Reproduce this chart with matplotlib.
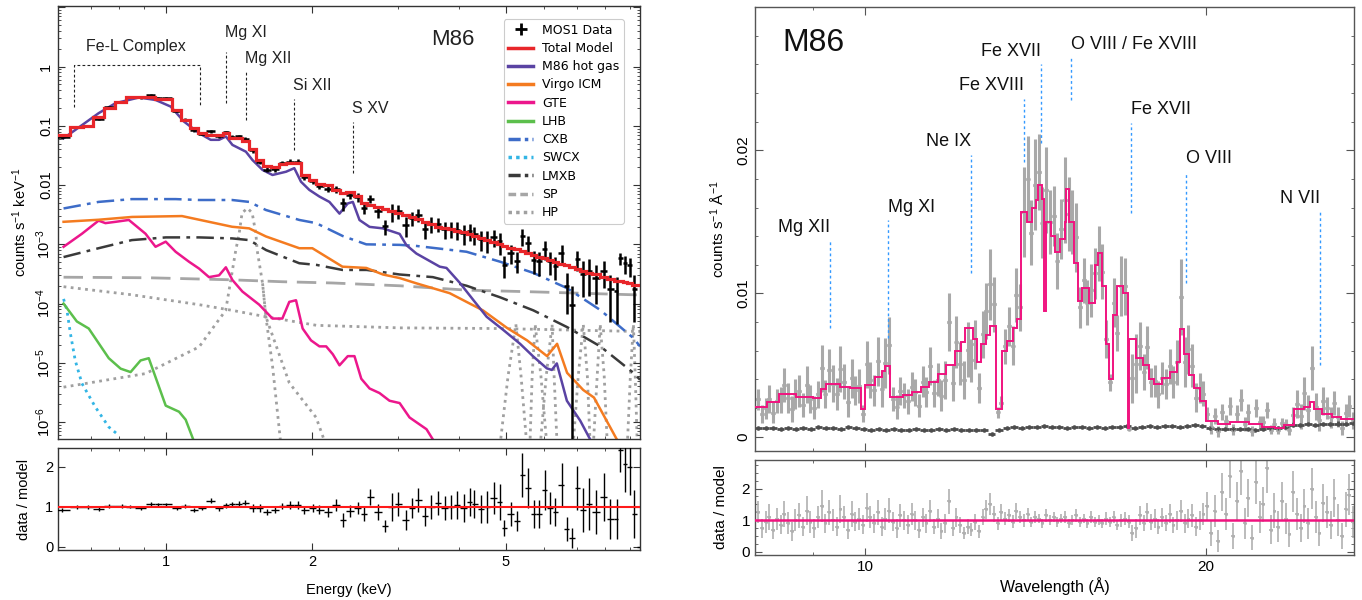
import numpy as np
import matplotlib
matplotlib.use("Agg")
import matplotlib.pyplot as plt
from matplotlib.lines import Line2D
from matplotlib.ticker import FixedLocator, NullFormatter, MultipleLocator, LogLocator

plt.rcParams['font.family'] = ['Liberation Sans', 'DejaVu Sans']
plt.rcParams['mathtext.fontset'] = 'custom'
plt.rcParams['mathtext.rm'] = 'Liberation Sans'
plt.rcParams['mathtext.default'] = 'regular'

# ---------------- left panel: MOS1 spectrum (energy, keV) ----------------
mos_e = [0.612, 0.657, 0.691, 0.729, 0.764, 0.811, 0.844, 0.888, 0.934, 0.962,
         1.002, 1.053, 1.097, 1.142, 1.184, 1.237, 1.288, 1.327, 1.368, 1.410,
         1.453, 1.507, 1.560, 1.614, 1.674, 1.735, 1.799, 1.869, 1.926, 2.005,
         2.067, 2.152, 2.240, 2.309, 2.389, 2.477, 2.553, 2.631, 2.728, 2.823,
         2.910, 2.999, 3.110, 3.198, 3.303, 3.404, 3.508, 3.630, 3.741, 3.856,
         3.958, 4.097, 4.222, 4.307, 4.439, 4.575, 4.715, 4.859, 4.958, 5.110,
         5.267, 5.406, 5.538, 5.707, 5.848, 6.003, 6.162, 6.313, 6.506, 6.665,
         6.842, 7.009, 7.194, 7.414, 7.640, 7.954, 8.197, 8.448, 8.570, 8.797,
         8.976, 9.158, 9.401]
mos_model = [0.070, 0.096, 0.100, 0.14, 0.20, 0.25, 0.31, 0.31, 0.31, 0.28,
             0.28, 0.185, 0.125, 0.092, 0.075, 0.070, 0.070, 0.075, 0.062, 0.062,
             0.055, 0.040, 0.026, 0.021, 0.020, 0.023, 0.024, 0.024, 0.0148, 0.012,
             0.0105, 0.0100, 0.0082, 0.0073, 0.0077, 0.0065, 0.0050, 0.0047, 0.0042, 0.0039,
             0.0036, 0.0034, 0.0031, 0.0029, 0.0027, 0.0024, 0.0022, 0.0020, 0.0019, 0.0018,
             0.0017, 0.0016, 0.0015, 0.0014, 0.0013, 0.0012, 0.0011, 0.0010, 0.00095, 0.00088,
             0.00082, 0.00076, 0.00071, 0.00067, 0.00062, 0.00058, 0.00054, 0.00050, 0.00047, 0.00044,
             0.00041, 0.00038, 0.00035, 0.00033, 0.00031, 0.00028, 0.00026, 0.00024, 0.00024, 0.00023,
             0.00022, 0.00021, 0.00021]
mos_ratio = [0.92, 1.00, 1.00, 0.94, 1.02, 1.02, 1.00, 0.97, 1.07, 1.06,
             1.06, 0.97, 1.02, 0.92, 0.97, 1.15, 0.96, 1.04, 1.06, 1.08,
             1.10, 0.96, 0.96, 0.87, 0.92, 1.02, 1.04, 1.04, 0.93, 0.96,
             0.93, 0.87, 1.04, 0.67, 0.90, 0.96, 0.83, 1.25, 0.87, 0.52,
             1.00, 1.08, 0.68, 0.96, 1.17, 0.77, 1.00, 1.10, 0.96, 1.00,
             1.04, 0.96, 1.12, 1.06, 0.94, 1.00, 1.21, 1.12, 0.48, 0.82,
             0.65, 1.80, 1.47, 0.82, 0.83, 1.43, 0.96, 0.86, 1.54, 0.45,
             0.23, 1.47, 0.92, 1.06, 0.87, 1.25, 0.69, 0.69, 2.43, 2.07,
             2.00, 0.83, 0.0]
mos_ratio_err = [0.05, 0.05, 0.05, 0.05, 0.04, 0.04, 0.04, 0.04, 0.05, 0.04,
                 0.04, 0.04, 0.05, 0.05, 0.05, 0.06, 0.06, 0.06, 0.06, 0.06,
                 0.06, 0.10, 0.10, 0.08, 0.08, 0.08, 0.10, 0.10, 0.10, 0.10,
                 0.12, 0.12, 0.15, 0.17, 0.15, 0.15, 0.18, 0.20, 0.20, 0.15,
                 0.35, 0.30, 0.25, 0.25, 0.30, 0.25, 0.30, 0.30, 0.30, 0.30,
                 0.35, 0.35, 0.35, 0.35, 0.35, 0.40, 0.40, 0.45, 0.20, 0.30,
                 0.25, 0.55, 0.50, 0.35, 0.35, 0.50, 0.40, 0.35, 0.55, 0.30,
                 0.25, 0.55, 0.55, 0.65, 0.55, 0.60, 0.50, 0.50, 0.55, 0.70,
                 0.70, 0.60, 0.0]

hot_e = [0.616, 0.651, 0.727, 0.788, 0.880, 0.952, 1.023, 1.089, 1.170, 1.236,
         1.286, 1.328, 1.370, 1.460, 1.506, 1.580, 1.656, 1.766, 1.836, 1.895,
         1.971, 2.068, 2.168, 2.274, 2.365, 2.422, 2.500, 2.622, 2.793, 3.023,
         3.121, 3.272, 3.655, 3.773, 4.019, 4.281, 4.563, 4.936, 5.345, 5.691,
         6.066, 6.212, 6.361, 6.671, 7.106, 7.568]
hot_y = [0.0616, 0.085, 0.163, 0.241, 0.30, 0.273, 0.211, 0.118, 0.075, 0.058,
         0.058, 0.066, 0.0476, 0.0366, 0.0265, 0.0180, 0.0148, 0.0168, 0.0193, 0.0114,
         0.0083, 0.0064, 0.0052, 0.0033, 0.0049, 0.0052, 0.00257, 0.00197, 0.00186, 0.0015,
         0.00097, 0.0007, 0.00042, 0.0004, 0.000224, 0.000116, 6.0e-5, 3.6e-5, 2.1e-5, 1.28e-5,
         8.1e-6, 7.6e-6, 9.8e-6, 2.3e-6, 1.06e-6, 4e-7]

icm_e = [0.616, 0.727, 0.852, 1.079, 1.368, 1.483, 1.605, 1.880, 2.000, 2.306,
         2.581, 2.793, 3.023, 3.272, 3.831, 4.483, 5.023, 5.525, 6.074, 6.369,
         6.678, 7.206, 7.584, 8.59]
icm_y = [0.0024, 0.0026, 0.0029, 0.0030, 0.00198, 0.00186, 0.00136, 0.00086, 0.00086, 0.00042,
         0.00040, 0.00031, 0.00027, 0.00022, 0.00015, 7.7e-5, 3.9e-5, 2.4e-5, 1.3e-5, 2.1e-5,
         6.8e-6, 3.5e-6, 2.6e-6, 4e-7]

gte_e = [0.616, 0.672, 0.727, 0.751, 0.788, 0.839, 0.908, 0.952, 0.999, 1.047,
         1.115, 1.170, 1.226, 1.286, 1.328, 1.370, 1.436, 1.555, 1.656, 1.735,
         1.793, 1.851, 1.910, 1.987, 2.068, 2.135, 2.203, 2.274, 2.365, 2.441,
         2.521, 2.622, 2.748, 2.881, 3.023, 3.168, 3.433, 3.604]
gte_y = [0.00091, 0.00151, 0.00251, 0.00228, 0.00240, 0.00258, 0.00151, 0.00091, 0.00111, 0.00075,
         0.00051, 0.00039, 0.00028, 0.00030, 0.00041, 0.00025, 0.00016, 9.6e-5, 5.6e-5, 5.6e-5,
         1.07e-4, 1.14e-4, 3.8e-5, 2.4e-5, 1.9e-5, 1.9e-5, 1.4e-5, 9.1e-6, 1.3e-5, 1.3e-5,
         5.4e-6, 3.7e-6, 3.1e-6, 2.3e-6, 2.1e-6, 1.2e-6, 7.6e-7, 4e-7]

lhb_e = [0.616, 0.656, 0.694, 0.763, 0.807, 0.846, 0.887, 0.922, 0.999, 1.064, 1.098, 1.151]
lhb_y = [1.0e-4, 5.0e-5, 3.8e-5, 1.2e-5, 8.0e-6, 7.0e-6, 1.1e-5, 1.2e-5, 1.9e-6, 1.5e-6, 1.1e-6, 4e-7]

cxb_e = [0.616, 0.727, 0.851, 1.047, 1.170, 1.368, 1.483, 1.605, 1.880, 2.036,
         2.310, 2.581, 3.023, 3.272, 4.148, 4.861, 5.691, 6.671, 7.814, 9.15, 9.43]
cxb_y = [0.00403, 0.0052, 0.0058, 0.0058, 0.0056, 0.0056, 0.0052, 0.0038, 0.00258, 0.00228,
         0.00138, 0.00100, 0.00098, 0.00094, 0.00075, 0.00051, 0.00033, 0.000183, 7.8e-5, 2.6e-5, 1.9e-5]

swcx_e = [0.616, 0.626, 0.636, 0.651, 0.672, 0.716, 0.763, 0.800]
swcx_y = [1.2e-4, 7.7e-5, 3.2e-5, 1.1e-5, 4.5e-6, 1.8e-6, 8.3e-7, 6e-7]

lmxb_e = [0.616, 0.727, 0.851, 1.000, 1.170, 1.368, 1.483, 1.607, 1.880, 2.040,
          2.306, 2.587, 2.790, 3.023, 3.537, 4.152, 4.861, 5.691, 6.684, 7.814, 9.14, 9.43]
lmxb_y = [0.00061, 0.00086, 0.00118, 0.00131, 0.00131, 0.00126, 0.00118, 0.00080, 0.00048, 0.00045,
          0.00037, 0.00037, 0.00034, 0.00031, 0.00028, 0.00020, 0.000128, 7.7e-5, 4.0e-5, 1.9e-5, 6.8e-6, 5.2e-6]

sp_e = [0.616, 0.922, 1.368, 1.735, 2.199, 3.023, 4.152, 5.691, 9.14, 9.43]
sp_y = [0.000279, 0.000273, 0.000252, 0.000234, 0.000223, 0.000200, 0.000169, 0.000158, 0.000141, 0.000140]

hp_e = [0.616, 0.851, 1.170, 1.368, 1.607, 2.040, 3.023, 4.861, 9.14, 9.43]
hp_y = [0.000193, 0.000141, 9.6e-5, 7.7e-5, 6.0e-5, 4.3e-5, 3.9e-5, 3.8e-5, 3.4e-5, 3.4e-5]
hp_al_e = [0.616, 0.908, 1.170, 1.327, 1.392, 1.414, 1.434, 1.471, 1.504, 1.531, 1.540, 1.580, 1.605, 1.657, 1.724]
hp_al_y = [3.9e-6, 6.6e-6, 1.86e-5, 7.7e-5, 8e-4, 1.5e-3, 3.4e-3, 4.06e-3, 3.4e-3, 1.5e-3, 8e-4, 2.2e-4, 6e-5, 8.6e-6, 4e-7]
hp_si_e = [1.580, 1.605, 1.793, 2.036, 2.135]
hp_si_y = [2.2e-4, 6e-5, 4.6e-6, 1.2e-6, 4e-7]
hp_line_e = [[4.86, 5.05, 5.24, 5.37, 5.52],
             [5.60, 5.66, 5.74, 5.90, 6.07],
             [5.88, 6.05, 6.22, 6.28, 6.37],
             [6.87, 7.04, 7.21, 7.35, 7.45],
             [7.56, 7.70, 7.81, 7.96, 8.08],
             [8.88, 9.01, 9.14, 9.22, 9.31]]
hp_line_y = [4e-7, 6e-6, 4.5e-5, 6e-6, 4e-7]

# line ids, left panel
mos_lines = ['Mg XI', 'Mg XII', 'Si XII', 'S XV']
mos_line_e = [1.329, 1.462, 1.836, 2.42]
mos_line_top = [1.77, 0.88, 0.285, 0.116]
mos_line_bot = [0.244, 0.126, 0.039, 0.016]
mos_label_y = [3.7, 1.35, 0.47, 0.193]

# ---------------- right panel: RGS spectrum (wavelength, A) ----------------
rgs_model_lo = [8.0, 8.2, 8.4, 8.7, 9.0, 9.15, 9.25, 9.5, 9.7, 9.93,
                10.0, 10.2, 10.35, 10.42, 10.52, 10.8, 11.0, 11.2, 11.4, 11.6,
                11.8, 12.0, 12.15, 12.25, 12.45, 12.55, 12.65, 12.8, 12.9, 13.05,
                13.22, 13.35, 13.5, 13.62, 13.72, 13.9, 14.05, 14.15, 14.22, 14.33,
                14.40, 14.44, 14.6, 14.7, 14.85, 15.0, 15.05, 15.15, 15.3, 15.42,
                15.55, 15.75, 15.95, 16.05, 16.2, 16.32, 16.42, 16.55, 16.7, 16.9,
                17.05, 17.1, 17.35, 17.6, 17.8, 18.0, 18.3, 18.6, 18.85, 18.95,
                19.1, 19.3, 19.5, 19.75, 20.0, 20.5, 21.0, 21.8, 22.4, 23.0,
                23.4, 23.9, 24.4, 24.7, 24.9, 25.3, 25.8, 26.3, 27.0]
rgs_model = [0.0021, 0.0024, 0.0030, 0.0028, 0.0027, 0.0033, 0.0037, 0.0035, 0.0034, 0.0019,
             0.0036, 0.0042, 0.0046, 0.0049, 0.0028, 0.0029, 0.0031, 0.0035, 0.0038, 0.0044,
             0.0050, 0.0060, 0.0066, 0.0076, 0.0068, 0.0052, 0.0065, 0.0071, 0.0077, 0.0019,
             0.0060, 0.0067, 0.0076, 0.0082, 0.0157, 0.0150, 0.0160, 0.0165, 0.0176, 0.0166,
             0.0088, 0.0150, 0.0140, 0.0129, 0.0138, 0.0150, 0.0173, 0.0150, 0.0121, 0.0095,
             0.0104, 0.0093, 0.0120, 0.0128, 0.0105, 0.0065, 0.0040, 0.0085, 0.0105, 0.0100,
             0.0006, 0.0068, 0.0055, 0.0050, 0.0040, 0.0037, 0.0041, 0.0045, 0.0052, 0.0075,
             0.0058, 0.0043, 0.0034, 0.0025, 0.0011, 0.0009, 0.0010, 0.0009, 0.0007, 0.0006,
             0.0008, 0.0019, 0.0021, 0.0024, 0.0019, 0.0016, 0.0014, 0.0012]

rgs_wav = np.geomspace(8.05, 26.95, 160)
rgs_ratio = [1.25, 0.75, 0.95, 1.1, 0.7, 1.05, 0.85, 1.2, 0.9, 0.65, 1.0, 1.15, 0.8, 1.3, 0.95, 0.75, 1.1, 1.45, 0.9, 1.25,
             1.0, 0.8, 1.35, 1.1, 0.7, 1.2, 0.95, 1.05, 0.85, 1.4, 1.1, 0.9, 1.25, 0.8, 1.05, 1.3, 0.95, 0.75, 1.15, 1.0,
             0.85, 1.2, 1.0, 0.7, 1.1, 0.9, 1.3, 0.8, 1.05, 0.65, 0.9, 1.6, 0.75, 1.1, 0.85, 0.6, 0.8, 0.7, 0.95, 0.65,
             1.1, 1.35, 1.5, 1.2, 0.9, 1.25, 1.05, 1.15, 0.95, 1.3, 1.1, 1.0, 1.2, 0.95, 1.1, 1.05, 0.9, 1.15, 1.0, 1.1,
             0.95, 1.05, 1.1, 0.9, 1.0, 1.15, 0.95, 1.05, 0.9, 1.1, 0.95, 1.0, 0.9, 1.05, 0.95, 1.1, 0.85, 1.0, 1.05, 0.95,
             0.6, 0.75, 1.15, 0.9, 1.25, 0.95, 1.05, 0.8, 1.1, 0.9, 1.2, 0.85, 1.0, 1.3, 0.9, 1.05, 1.15, 0.8, 1.0, 1.2,
             1.45, 0.6, 1.3, 0.35, 1.9, 1.2, 2.4, 0.5, 1.6, 2.55, 0.9, 1.7, 0.45, 2.2, 1.1, 1.5, 2.65, 0.7, 1.3, 0.8,
             1.6, 1.05, 0.55, 1.9, 1.2, 0.75, 1.45, 0.9, 2.0, 1.1, 0.6, 1.55, 1.25, 0.85, 1.7, 1.0, 0.5, 1.35, 1.8, 0.95]
rgs_ratio_err = [0.35, 0.3, 0.35, 0.4, 0.3, 0.35, 0.3, 0.4, 0.35, 0.3, 0.35, 0.4, 0.3, 0.45, 0.35, 0.3, 0.35, 0.5, 0.3, 0.4,
                 0.35, 0.3, 0.45, 0.35, 0.3, 0.4, 0.3, 0.35, 0.3, 0.45, 0.35, 0.3, 0.4, 0.3, 0.35, 0.4, 0.3, 0.3, 0.35, 0.3,
                 0.3, 0.35, 0.3, 0.25, 0.3, 0.3, 0.35, 0.25, 0.3, 0.25, 0.3, 0.4, 0.25, 0.3, 0.25, 0.2, 0.25, 0.2, 0.25, 0.2,
                 0.25, 0.3, 0.35, 0.25, 0.2, 0.25, 0.2, 0.2, 0.2, 0.25, 0.2, 0.2, 0.2, 0.15, 0.2, 0.15, 0.15, 0.2, 0.15, 0.15,
                 0.15, 0.15, 0.2, 0.15, 0.15, 0.2, 0.15, 0.15, 0.15, 0.2, 0.15, 0.15, 0.15, 0.2, 0.15, 0.2, 0.15, 0.2, 0.2, 0.2,
                 0.25, 0.3, 0.3, 0.25, 0.3, 0.25, 0.3, 0.25, 0.3, 0.25, 0.3, 0.25, 0.3, 0.35, 0.3, 0.3, 0.35, 0.3, 0.3, 0.35,
                 0.45, 0.4, 0.5, 0.35, 0.6, 0.5, 0.7, 0.4, 0.6, 0.75, 0.5, 0.6, 0.4, 0.7, 0.5, 0.55, 0.8, 0.45, 0.55, 0.5,
                 0.6, 0.5, 0.4, 0.65, 0.5, 0.45, 0.55, 0.5, 0.65, 0.5, 0.4, 0.6, 0.5, 0.45, 0.6, 0.5, 0.4, 0.55, 0.65, 0.5]

bg_wav = np.geomspace(8.05, 26.95, 80)
bg_rate = [0.00062, 0.00058, 0.00060, 0.00055, 0.00063, 0.00057, 0.00060, 0.00056, 0.00065, 0.00058,
           0.00061, 0.00055, 0.00068, 0.00060, 0.00052, 0.00050, 0.00054, 0.00049, 0.00052, 0.00050,
           0.00048, 0.00053, 0.00050, 0.00047, 0.00051, 0.00049, 0.00052, 0.00048, 0.00050, 0.00047,
           0.00046, 0.00022, 0.00045, 0.00062, 0.00068, 0.00064, 0.00070, 0.00066, 0.00072, 0.00065,
           0.00068, 0.00063, 0.00071, 0.00067, 0.00062, 0.00069, 0.00064, 0.00070, 0.00066, 0.00073,
           0.00062, 0.00068, 0.00075, 0.00070, 0.00072, 0.00078, 0.00071, 0.00076, 0.00080, 0.00074,
           0.00058, 0.00055, 0.00052, 0.00057, 0.00053, 0.00056, 0.00050, 0.00054, 0.00058, 0.00062,
           0.00066, 0.00085, 0.00080, 0.00088, 0.00083, 0.00090, 0.00086, 0.00092, 0.00088, 0.00095]

rgs_lines = ['Mg XII', 'Mg XI', 'Ne IX', 'Fe XVIII', 'Fe XVII', 'O VIII / Fe XVIII', 'Fe XVII', 'O VIII', 'N VII']
rgs_line_wav = [9.32, 10.49, 12.40, 13.81, 14.30, 15.19, 17.18, 19.2, 25.2]
rgs_line_top = [0.0137, 0.0151, 0.0197, 0.0236, 0.0260, 0.0265, 0.0219, 0.0185, 0.0157]
rgs_line_bot = [0.0076, 0.0069, 0.0114, 0.0192, 0.0205, 0.0235, 0.0156, 0.0107, 0.0050]
rgs_line_ha = ['right', 'left', 'right', 'right', 'right', 'left', 'left', 'left', 'right']


def log_edges(x):
    x = np.asarray(x, float)
    mid = np.sqrt(x[:-1] * x[1:])
    return np.concatenate([[x[0] ** 2 / mid[0]], mid, [x[-1] ** 2 / mid[-1]]])


def frame(ax, color='#333333'):
    ax.tick_params(which='both', direction='in', top=True, right=True, labelsize=10.5)
    ax.tick_params(which='major', length=5, color=color)
    ax.tick_params(which='minor', length=2.5, color=color)
    for s in ax.spines.values():
        s.set_linewidth(1.0)
        s.set_color(color)


fig = plt.figure(figsize=(13.62, 6.0), dpi=100)
ax1 = fig.add_axes([58 / 1362, 1 - 439 / 600, 582 / 1362, 433 / 600])
ax2 = fig.add_axes([58 / 1362, 1 - 550 / 600, 582 / 1362, 102 / 600])
ax3 = fig.add_axes([755 / 1362, 1 - 451 / 600, 599 / 1362, 444 / 600])
ax4 = fig.add_axes([755 / 1362, 1 - 555 / 600, 599 / 1362, 95 / 600])

# ---- left top
C_RED, C_HOT, C_ICM, C_GTE = '#e8262a', '#5a43a3', '#f47b20', '#ec178c'
C_LHB, C_CXB, C_SWCX, C_LMXB = '#5cbf4c', '#3d6cc8', '#33b5e5', '#3a3a3a'
C_SP, C_HP = '#a6a6a6', '#a0a0a0'
DASHDOT = (0, (7, 2.5, 1.5, 2.5))
DOTS = (0, (1, 1.6))
lw = 1.8

for le in hp_line_e:
    ax1.plot(le, hp_line_y, color=C_HP, lw=2, ls=DOTS, zorder=1)
ax1.plot(hp_e, hp_y, color=C_HP, lw=2, ls=DOTS, zorder=1)
ax1.plot(hp_al_e, hp_al_y, color=C_HP, lw=2, ls=DOTS, zorder=1)
ax1.plot(hp_si_e, hp_si_y, color=C_HP, lw=2, ls=DOTS, zorder=1)
ax1.plot(sp_e, sp_y, color=C_SP, lw=2, ls=(0, (7, 3.5)), zorder=1)
ax1.plot(lmxb_e, lmxb_y, color=C_LMXB, lw=lw, ls=DASHDOT, zorder=2)
ax1.plot(swcx_e, swcx_y, color=C_SWCX, lw=2, ls=DOTS, zorder=2)
ax1.plot(cxb_e, cxb_y, color=C_CXB, lw=lw, ls=DASHDOT, zorder=2)
ax1.plot(lhb_e, lhb_y, color=C_LHB, lw=lw, zorder=2)
ax1.plot(gte_e, gte_y, color=C_GTE, lw=lw, zorder=2)
ax1.plot(icm_e, icm_y, color=C_ICM, lw=lw, zorder=2)
ax1.plot(hot_e, hot_y, color=C_HOT, lw=lw, zorder=3)

e = np.array(mos_e)
m = np.array(mos_model)
r = np.array(mos_ratio)
re = np.array(mos_ratio_err)
edges = log_edges(e)
xe_lo, xe_hi = e - edges[:-1], edges[1:] - e
y = m * r
ye = m * re
ylo = np.where(y - ye > 0, ye, y * (1 - 1e-6))
ok = r > 0
ax1.errorbar(e[ok], y[ok], yerr=[ylo[ok], ye[ok]], xerr=[xe_lo[ok], xe_hi[ok]],
             fmt='none', ecolor='black', elinewidth=1.8, capsize=0, zorder=4)
ax1.stairs(m, edges, color=C_RED, lw=2.3, baseline=None, zorder=5)

ax1.set_xscale('log')
ax1.set_yscale('log')
ax1.set_xlim(0.6, 9.43)
ax1.set_ylim(5.2e-7, 10.5)
ax1.yaxis.set_major_locator(FixedLocator([1e-6, 1e-5, 1e-4, 1e-3, 1e-2, 0.1, 1, 10]))
ax1.set_yticklabels(['$10^{-6}$', '$10^{-5}$', '$10^{-4}$', '$10^{-3}$', '0.01', '0.1', '1', ''],
                    rotation=90, va='center')
ax1.yaxis.set_minor_locator(LogLocator(base=10, subs=np.arange(2, 10), numticks=20))
ax1.yaxis.set_minor_formatter(NullFormatter())
ax1.xaxis.set_major_locator(FixedLocator([1, 2, 5]))
ax1.xaxis.set_major_formatter(NullFormatter())
ax1.xaxis.set_minor_formatter(NullFormatter())
ax1.set_ylabel('counts s$^{-1}$ keV$^{-1}$', fontsize=10.5, labelpad=4)
frame(ax1)

# Fe-L bracket and line ids
dash = dict(color='#222222', lw=0.8, ls=(0, (2.5, 2)))
ax1.plot([0.646, 0.646, 1.175, 1.175], [0.208, 1.07, 1.07, 0.208], **dash)
ax1.text(0.867, 2.15, 'Fe-L Complex', ha='center', va='center', fontsize=11.5, color='#222222')
for name, le, t, b, ly in zip(mos_lines, mos_line_e, mos_line_top, mos_line_bot, mos_label_y):
    ax1.plot([le, le], [b, t], **dash)
    ax1.text(le * 0.995, ly, name, ha='left', va='center', fontsize=11.5, color='#222222')
ax1.text(3.89, 2.82, 'M86', ha='center', va='center', fontsize=16, color='#222222')

LEG_DASHDOT = (0, (3.5, 1.2, 1, 1.2))
handles = [Line2D([], [], color='black', marker='+', ls='none', ms=9, mew=2),
           Line2D([], [], color=C_RED, lw=2.5),
           Line2D([], [], color=C_HOT, lw=2.5),
           Line2D([], [], color=C_ICM, lw=2.5),
           Line2D([], [], color=C_GTE, lw=2.5),
           Line2D([], [], color=C_LHB, lw=2.5),
           Line2D([], [], color=C_CXB, lw=2.5, ls=LEG_DASHDOT),
           Line2D([], [], color=C_SWCX, lw=2.5, ls=(0, (1, 1.2))),
           Line2D([], [], color=C_LMXB, lw=2.5, ls=LEG_DASHDOT),
           Line2D([], [], color=C_SP, lw=2.5, ls=(0, (2.2, 1.2))),
           Line2D([], [], color=C_HP, lw=2.5, ls=(0, (1, 1.2)))]
labels = ['MOS1 Data', 'Total Model', 'M86 hot gas', 'Virgo ICM', 'GTE', 'LHB',
          'CXB', 'SWCX', 'LMXB', 'SP', 'HP']
leg = ax1.legend(handles, labels, loc='upper left', bbox_to_anchor=(0.762, 0.975),
                 prop={'family': 'DejaVu Sans', 'size': 9}, frameon=True, framealpha=1,
                 edgecolor='#cccccc', handlelength=2.0, labelspacing=0.42, borderpad=0.35,
                 handletextpad=0.7, borderaxespad=0.2)
leg.get_frame().set_linewidth(0.8)

# ---- left ratio
ax2.errorbar(e, r, yerr=re, xerr=[xe_lo, xe_hi], fmt='none', ecolor='black',
             elinewidth=1.0, capsize=0, zorder=3)
ax2.axhline(1.0, color='#ff1a1a', lw=1.5, zorder=4)
ax2.set_xscale('log')
ax2.set_xlim(0.6, 9.43)
ax2.set_ylim(-0.08, 2.47)
ax2.set_yticks([0, 1, 2])
ax2.set_yticklabels(['0', '1', '2'])
ax2.xaxis.set_major_locator(FixedLocator([1, 2, 5]))
ax2.set_xticklabels(['1', '2', '5'])
ax2.xaxis.set_minor_formatter(NullFormatter())
ax2.set_xlabel('Energy (keV)', fontsize=10.5, labelpad=10)
ax2.set_ylabel('data / model', fontsize=10.5, labelpad=10)
frame(ax2)

# ---- right top
w = rgs_wav
lo_edges = np.array(rgs_model_lo)
mv = np.array(rgs_model)
idx = np.clip(np.searchsorted(lo_edges, w, side='right') - 1, 0, len(mv) - 1)
m_at = mv[idx]
rr = np.array(rgs_ratio)
rre = np.array(rgs_ratio_err)
wed = log_edges(w)
wx = [w - wed[:-1], wed[1:] - w]
ax3.errorbar(w, m_at * rr, yerr=m_at * rre, xerr=wx, fmt='o', ms=2.2, color='#a9a9a9',
             ecolor='#a9a9a9', elinewidth=2.2, capsize=0, zorder=2)
bed = log_edges(bg_wav)
ax3.errorbar(bg_wav, bg_rate, yerr=0.00014, xerr=[bg_wav - bed[:-1], bed[1:] - bg_wav],
             fmt='+', ms=3, color='#4d4d4d', ecolor='#4d4d4d', elinewidth=2.0, capsize=0, zorder=2)
ax3.stairs(mv, lo_edges, color='#f0137f', lw=1.4, baseline=None, zorder=3)

for name, lx, t, b, ha in zip(rgs_lines, rgs_line_wav, rgs_line_top, rgs_line_bot, rgs_line_ha):
    ax3.plot([lx, lx], [b, t], color='#3399ff', lw=1.0, ls=(0, (2, 2)), zorder=4)
    ax3.text(lx, t + 0.0006, name, ha=ha, va='baseline', fontsize=13, color='#111111')
ax3.text(9.0, 0.0275, 'M86', ha='center', va='center', fontsize=23, color='#111111')

ax3.set_xscale('log')
ax3.set_xlim(8.0, 27.0)
ax3.set_ylim(-0.001, 0.03)
ax3.xaxis.set_major_locator(FixedLocator([10, 20]))
ax3.xaxis.set_major_formatter(NullFormatter())
ax3.xaxis.set_minor_locator(FixedLocator([9]))
ax3.xaxis.set_minor_formatter(NullFormatter())
ax3.set_yticks([0, 0.01, 0.02])
ax3.set_yticklabels(['0', '0.01', '0.02'], rotation=90, va='center')
ax3.yaxis.set_minor_locator(MultipleLocator(0.002))
ax3.set_ylabel('counts s$^{-1}$ Å$^{-1}$', fontsize=11, labelpad=6)
frame(ax3, '#555555')
ax3.tick_params(which='major', length=6)
ax3.tick_params(labelsize=11)

# ---- right ratio
ax4.errorbar(w, rr, yerr=rre, xerr=wx, fmt='o', ms=1.2, color='#b0b0b0', ecolor='#b0b0b0',
             elinewidth=1.2, capsize=0, zorder=2)
ax4.axhline(1.0, color='#f0137f', lw=1.8, zorder=3)
ax4.set_xscale('log')
ax4.set_xlim(8.0, 27.0)
ax4.set_ylim(-0.1, 2.9)
ax4.set_yticks([0, 1, 2])
ax4.set_yticklabels(['0', '1', '2'])
ax4.yaxis.set_minor_locator(MultipleLocator(0.25))
ax4.xaxis.set_major_locator(FixedLocator([10, 20]))
ax4.set_xticklabels(['10', '20'])
ax4.xaxis.set_minor_locator(FixedLocator([9]))
ax4.xaxis.set_minor_formatter(NullFormatter())
ax4.set_xlabel('Wavelength (Å)', fontsize=11.5, labelpad=2)
ax4.set_ylabel('data / model', fontsize=11, labelpad=10)
frame(ax4, '#555555')
ax4.tick_params(labelsize=11)

fig.savefig('out.png', dpi=100)
